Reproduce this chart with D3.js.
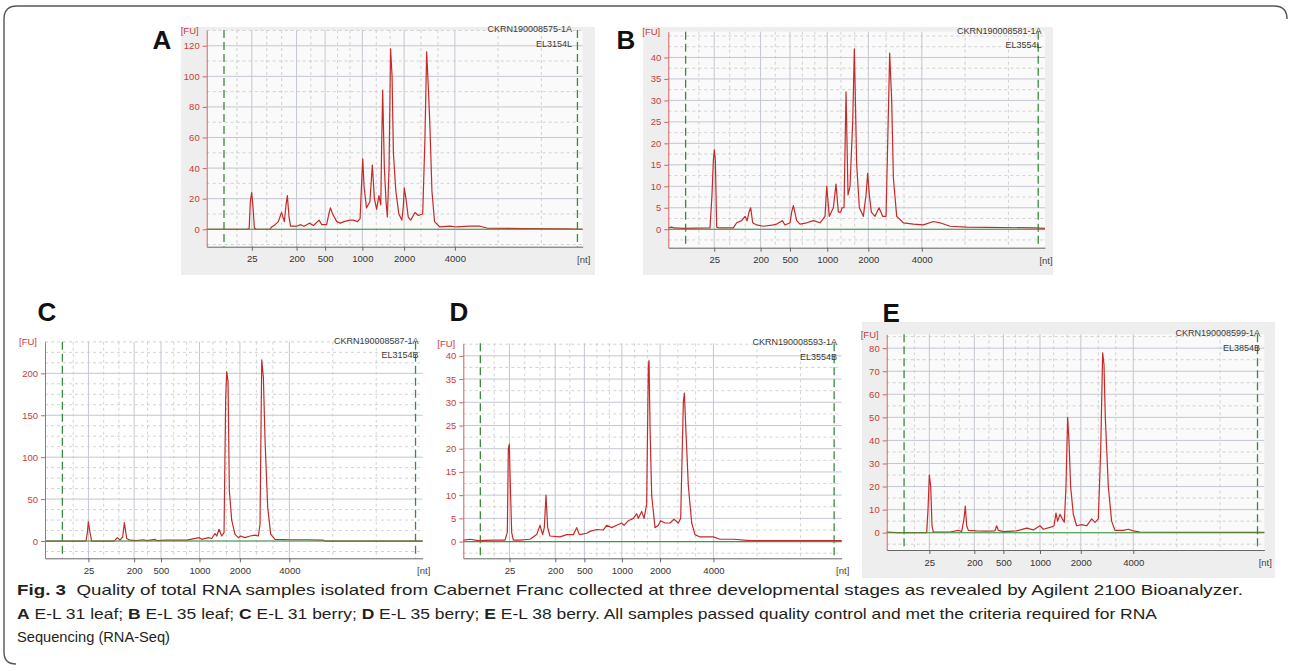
<!DOCTYPE html>
<meta charset="utf-8">
<head>
<style>
  body { margin: 0; background: #fff; }
  svg text { font-family: "Liberation Sans", Arial, sans-serif; }
</style>
<script src="https://d3js.org/d3.v7.min.js"></script>
</head>
<body>
<svg width="1290" height="671"></svg>
<script>
// sizes printed under the x axis (nt)
var ladderSizes = [25, 200, 500, 1000, 2000, 4000];

// where each ladder size falls in each run (migration, 0-100 units)
var ladderA = [12.0, 23.9, 31.5, 41.4, 52.5, 66.0];
var ladderB = [12.2, 24.5, 32.3, 42.2, 53.1, 67.3];
var ladderC = [11.5, 23.6, 30.7, 40.9, 51.6, 64.7];
var ladderD = [12.2, 24.3, 32.0, 41.9, 52.0, 66.1];
var ladderE = [11.3, 23.2, 30.9, 40.6, 51.4, 65.3];

// lower / upper marker positions (green dashed)
var markersA = [4.6, 98.6];
var markersB = [4.6, 98.2];
var markersC = [4.6, 98.1];
var markersD = [4.5, 98.0];
var markersE = [4.6, 98.2];

// y ticks [FU]
var yTicksA = [0, 20, 40, 60, 80, 100, 120];
var yTicksB = [0, 5, 10, 15, 20, 25, 30, 35, 40];
var yTicksC = [0, 50, 100, 150, 200];
var yTicksD = [0, 5, 10, 15, 20, 25, 30, 35, 40];
var yTicksE = [0, 10, 20, 30, 40, 50, 60, 70, 80];

var sampleIds = ["CKRN190008575-1A", "CKRN190008581-1A", "CKRN190008587-1A", "CKRN190008593-1A", "CKRN190008599-1A"];
var sampleNames = ["EL3154L", "EL3554L", "EL3154B", "EL3554B", "EL3854B"];
var panelLetters = ["A", "B", "C", "D", "E"];

// electropherograms: [migration, FU]
var traceA = [[0,0],[10.6,0],[11.3,0.5],[11.6,18],[11.96,24],[12.3,15],[12.67,1],[13.1,0],[16.8,0],[17.3,1.5],[18.2,3],[19.05,5],[19.9,11],[20.65,5],[21.1,16],[21.45,22],[21.9,8],[22.3,2],[23.9,2],[25.0,3],[25.9,2],[27.3,4],[28.4,2.5],[29.9,6],[30.6,3],[31.9,3],[32.4,9],[32.9,14],[33.5,10],[34.6,5],[35.5,4],[36.5,5],[38.1,6],[39.0,6],[40.1,5],[40.8,7],[41.2,30],[41.5,46],[41.85,28],[42.5,14],[43.4,18],[44.05,42],[44.6,20],[45.2,13],[45.8,22],[46.3,16],[46.5,50],[46.8,91],[47.25,40],[47.7,18],[48.05,8],[48.5,40],[48.9,118],[49.3,100],[49.65,50],[50.3,25],[51.1,10],[51.9,6],[52.3,15],[52.55,27],[53.0,20],[53.6,8],[54.25,6],[55.4,11],[56.3,9],[57.45,10],[58.05,60],[58.5,116],[59.0,90],[59.4,65],[59.9,25],[60.6,5],[62.0,1.5],[64.7,2],[66.5,1.5],[70.0,2],[72.7,2],[74.5,0.8],[84.2,0.5],[95.7,0.3],[100,0]];

var traceB = [[0,0.3],[0.9,0.5],[1.5,0.3],[4,0.2],[11.07,0.3],[11.6,8],[11.96,16],[12.22,18.5],[12.49,16],[12.84,0.5],[13.5,0.3],[17.27,0.3],[18.15,1.5],[19.48,2],[20.37,3],[20.9,2],[21.43,4],[21.87,5],[22.4,1.5],[23.46,1],[25.23,0.7],[27.89,1],[28.77,1.2],[30.28,2],[30.98,1],[32.31,1.5],[32.75,4],[33.2,5.5],[34.08,2],[34.97,1.2],[36.74,1.5],[38.51,2],[40.28,1.5],[41.6,3],[42.05,10],[42.75,3],[43.81,5],[44.52,10.5],[45.14,4],[45.76,4],[46.12,5],[46.65,5],[47.18,32],[47.71,8],[48.24,10],[48.95,25],[49.39,42],[50.01,15],[50.72,5],[51.78,3],[52.49,8],[52.93,13],[53.37,8],[53.9,4],[54.88,3],[55.94,5],[56.91,3],[57.8,3],[58.24,20],[58.77,41],[59.3,30],[59.75,12],[60.63,3],[62.4,1.5],[65.06,1.2],[67.71,1],[70.37,1.8],[72.14,1.5],[74.79,0.7],[79.22,0.5],[96.92,0.3],[100,0.2]];

var traceC = [[0,0],[10.86,0],[11.21,10],[11.48,23],[11.92,10],[12.36,0],[18.2,0],[18.54,1],[19.16,4],[19.86,1],[20.57,5],[21.01,22],[21.63,3],[22.51,1],[24,0.5],[26.04,1.5],[27,0.5],[29.13,2],[29.57,0.5],[32.22,1],[37.52,1],[40.87,4],[41.49,2],[43.25,4],[44.14,3],[45.02,9],[45.46,6],[46.08,14],[46.78,6],[47.4,10],[47.84,170],[48.11,202],[48.46,190],[48.81,60],[49.43,25],[50.31,8],[51.2,4],[51.81,6],[52.96,4],[54.29,6],[55.61,7],[56.49,6],[56.93,20],[57.38,216],[57.82,195],[58.26,120],[58.96,40],[59.76,8],[60.91,2],[64.88,1.5],[69.29,1.5],[73.7,1],[74.14,0],[100,0]];

var traceD = [[0,0.3],[1.77,0.5],[3.97,0.2],[7.93,0.3],[11.02,0.3],[11.63,2],[11.9,20],[12.16,21],[12.43,12],[12.78,2],[13.22,0.3],[14.98,0.3],[17.63,0.5],[19.39,1.5],[20.27,3.5],[20.97,1.5],[21.41,3],[21.85,10],[22.3,3],[22.91,1.2],[25.55,1],[27.32,1.5],[29.08,1.5],[29.96,3],[30.66,1.5],[32.6,1.8],[33.48,2.2],[35.25,2.6],[37.01,2.5],[37.89,3.5],[39.21,3],[40.53,3.5],[41.85,4],[42.47,3.5],[43.62,4.5],[44.94,5],[45.82,6],[46.26,5],[47.14,6.5],[47.76,5],[48.46,8],[48.9,38],[49.08,39],[49.34,25],[49.78,10],[50.66,3],[51.55,3.5],[52.16,4.5],[53.31,4],[54.63,4],[55.69,4.8],[56.83,4],[57.45,5],[58.15,30],[58.42,32],[58.77,25],[59.47,12],[60.36,4],[61.24,1.5],[62.56,1],[66.08,1],[67.85,0.5],[71.37,0.5],[75.77,0.2],[100,0.2]];

var traceE = [[0,0.3],[2.64,0],[10.59,0],[10.94,10],[11.29,25],[11.65,20],[12.0,3],[12.35,0.3],[16.76,0.3],[18.97,1],[19.85,0.5],[20.47,6],[20.82,11.5],[21.18,3],[21.62,1],[23.82,0.8],[26.47,0.7],[28.68,0.8],[29.12,3],[29.56,1],[30.89,0.5],[34.42,0.8],[37.06,2],[38.83,1.2],[40.59,3],[41.48,1.5],[43.68,2.5],[44.3,3],[44.83,8.5],[45.27,5],[45.89,8],[46.51,6],[47.04,4.5],[47.48,20],[47.92,50],[48.27,40],[48.71,20],[49.42,8],[50.3,3],[51.63,3.5],[52.95,3],[54.28,6],[55.16,4.5],[56.04,6],[56.66,35],[57.19,78],[57.54,73],[57.89,50],[58.69,20],[59.57,5],[60.45,1],[62.66,1],[63.98,1.5],[65.31,0.8],[67.07,0.3],[73.25,0.2],[100,0.1]];

var captionLines = [
  [["Fig. 3", true], ["  Quality of total RNA samples isolated from Cabernet Franc collected at three developmental stages as revealed by Agilent 2100 Bioanalyzer.", false]],
  [["A", true], [" E-L 31 leaf; ", false], ["B", true], [" E-L 35 leaf; ", false], ["C", true], [" E-L 31 berry; ", false], ["D", true], [" E-L 35 berry; ", false], ["E", true], [" E-L 38 berry. All samples passed quality control and met the criteria required for RNA", false]],
  [["Sequencing (RNA-Seq)", false]]
];

// ---- layout ----
var panels = [
  { trace: traceA, ladder: ladderA, markers: markersA, yTicks: yTicksA, yDomain: [-11.4, 130.3], minorY: 10,
    left: 206.7, right: 582.7, top: 30, bottom: 246.7, bg: [181, 27, 414, 248], letter: [152.5, 48.5], idRight: 572 },
  { trace: traceB, ladder: ladderB, markers: markersB, yTicks: yTicksB, yDomain: [-4.3, 46], minorY: 2.5,
    left: 668.3, right: 1045, top: 31.7, bottom: 247.7, bg: [643, 27, 410, 248], letter: [616.5, 48.5], idRight: 1041.5 },
  { trace: traceC, ladder: ladderC, markers: markersC, yTicks: yTicksC, yDomain: [-20.6, 237.7], minorY: 12.5,
    left: 45, right: 422.7, top: 341.7, bottom: 558.3, bg: null, letter: [37.5, 320.5], idRight: 418.5 },
  { trace: traceD, ladder: ladderD, markers: markersD, yTicks: yTicksD, yDomain: [-3.6, 42.7], minorY: 2.5,
    left: 463.3, right: 841.7, top: 343.3, bottom: 558.3, bg: null, letter: [449.5, 320.5], idRight: 837 },
  { trace: traceE, ladder: ladderE, markers: markersE, yTicks: yTicksE, yDomain: [-7.5, 86], minorY: 5,
    left: 886.7, right: 1264.3, top: 334.3, bottom: 550, bg: [862, 322, 413, 256], letter: [882.5, 321.5], idRight: 1260 }
];

var svg = d3.select("svg");

// figure frame
svg.append("path")
  .attr("d", "M4,652 L4,19 Q4,6 17,6 L1274,6 Q1287,6 1287,19")
  .attr("fill", "none").attr("stroke", "#555").attr("stroke-width", 1.4);
svg.append("path")
  .attr("d", "M4,652 Q4,664 16,664")
  .attr("fill", "none").attr("stroke", "#555").attr("stroke-width", 1.4);

function minorTimes(l) {
  var out = [l[0] - (l[1] - l[0]) / 3];
  for (var i = 0; i < l.length - 1; i++) {
    var n = (i === 1) ? 2 : 3;
    for (var k = 1; k < n; k++) out.push(l[i] + (l[i + 1] - l[i]) * k / n);
  }
  out.push(l[l.length - 1] + 11.5, l[l.length - 1] + 23);
  return out;
}

panels.forEach(function(p, i) {
  var g = svg.append("g");
  var x = d3.scaleLinear().domain([0, 100]).range([p.left, p.right]);
  var y = d3.scaleLinear().domain(p.yDomain).range([p.bottom, p.top]);

  if (p.bg) {
    g.append("rect").attr("x", p.bg[0]).attr("y", p.bg[1]).attr("width", p.bg[2]).attr("height", p.bg[3])
      .attr("fill", "#eeeeee");
    g.append("rect").attr("x", p.left).attr("y", p.top).attr("width", p.right - p.left).attr("height", p.bottom - p.top)
      .attr("fill", "#fafafa");
  }

  // minor grid
  var minorYs = d3.range(Math.ceil(p.yDomain[0] / p.minorY) * p.minorY, p.yDomain[1], p.minorY)
    .filter(function(v) { return p.yTicks.indexOf(v) < 0; });
  g.selectAll(".my").data(minorYs).enter().append("line")
    .attr("x1", p.left).attr("x2", p.right)
    .attr("y1", function(d) { return y(d); }).attr("y2", function(d) { return y(d); })
    .attr("stroke", "#c8c8c8").attr("stroke-dasharray", "3,3").attr("stroke-width", 0.8);
  g.selectAll(".mx").data(minorTimes(p.ladder)).enter().append("line")
    .attr("y1", p.top).attr("y2", p.bottom)
    .attr("x1", function(d) { return x(d); }).attr("x2", function(d) { return x(d); })
    .attr("stroke", "#c8c8c8").attr("stroke-dasharray", "3,3").attr("stroke-width", 0.8);

  // major grid
  g.selectAll(".gy").data(p.yTicks).enter().append("line")
    .attr("x1", p.left).attr("x2", p.right)
    .attr("y1", function(d) { return y(d); }).attr("y2", function(d) { return y(d); })
    .attr("stroke", "#c3c7d0").attr("stroke-width", 1);
  g.selectAll(".gx").data(p.ladder).enter().append("line")
    .attr("y1", p.top).attr("y2", p.bottom)
    .attr("x1", function(d) { return x(d); }).attr("x2", function(d) { return x(d); })
    .attr("stroke", "#c3c7d0").attr("stroke-width", 1);

  // markers
  g.selectAll(".mk").data(p.markers).enter().append("line")
    .attr("y1", p.top).attr("y2", p.bottom)
    .attr("x1", function(d) { return x(d); }).attr("x2", function(d) { return x(d); })
    .attr("stroke", "#3b8a3b").attr("stroke-width", 1.3).attr("stroke-dasharray", "8,4");

  // trace
  var line = d3.line().x(function(d) { return x(d[0]); }).y(function(d) { return y(d[1]); });
  g.append("path").datum(p.trace)
    .attr("d", line).attr("fill", "none")
    .attr("stroke", "#c42a2a").attr("stroke-width", 1.2).attr("stroke-linejoin", "round");

  // baseline
  g.append("line").attr("x1", p.left).attr("x2", p.right)
    .attr("y1", y(0)).attr("y2", y(0))
    .attr("stroke", "#3c9a3c").attr("stroke-width", 1.1);

  // axes
  var xAxis = d3.axisBottom(x).tickValues(p.ladder)
    .tickFormat(function(d, j) { return ladderSizes[j]; })
    .tickSize(4).tickSizeOuter(0).tickPadding(5);
  var gx = g.append("g").attr("transform", "translate(0," + p.bottom + ")").call(xAxis);
  gx.select(".domain").attr("stroke", "#666");
  gx.selectAll(".tick line").attr("stroke", "#666");
  gx.selectAll("text").attr("fill", "#333").attr("font-size", 9.5)
    .attr("font-family", "Liberation Sans, Arial, sans-serif");

  var yAxis = d3.axisLeft(y).tickValues(p.yTicks).tickSize(4).tickSizeOuter(0).tickPadding(3);
  var gy = g.append("g").attr("transform", "translate(" + p.left + ",0)").call(yAxis);
  gy.select(".domain").attr("stroke", "#d26060");
  gy.selectAll(".tick line").attr("stroke", "#d26060");
  gy.selectAll("text").attr("fill", "#c83a3a").attr("font-size", 9.5)
    .attr("font-family", "Liberation Sans, Arial, sans-serif");

  g.append("text").attr("x", p.left - 17).attr("y", p.top + 3.5)
    .attr("text-anchor", "middle").attr("font-size", 9.5).attr("fill", "#c83a3a").text("[FU]");
  g.append("text").attr("x", p.right + 1).attr("y", p.bottom + 16)
    .attr("text-anchor", "middle").attr("font-size", 9.5).attr("fill", "#444").text("[nt]");

  g.append("text").attr("x", p.idRight).attr("y", p.top + 2)
    .attr("text-anchor", "end").attr("font-size", 9).attr("fill", "#3a3a3a").text(sampleIds[i]);
  g.append("text").attr("x", p.idRight).attr("y", p.top + 16.5)
    .attr("text-anchor", "end").attr("font-size", 9).attr("fill", "#3a3a3a").text(sampleNames[i]);

  g.append("text").attr("x", p.letter[0]).attr("y", p.letter[1])
    .attr("font-family", "Open Sans, Liberation Sans, sans-serif")
    .attr("font-size", 26).attr("font-weight", 700).attr("fill", "#111").text(panelLetters[i]);
});

// caption
var capY = [595, 619, 642];
var capW = [1226, 1140, 153];
captionLines.forEach(function(parts, k) {
  var t = svg.append("text").attr("x", 17).attr("y", capY[k])
    .attr("font-family", "Liberation Sans, Arial, sans-serif")
    .attr("font-size", 15).attr("fill", "#231f20")
    .attr("textLength", capW[k]).attr("lengthAdjust", "spacingAndGlyphs")
    .attr("xml:space", "preserve");
  parts.forEach(function(s) {
    t.append("tspan").attr("font-weight", s[1] ? 700 : 400).text(s[0]);
  });
});
</script>
</body>
